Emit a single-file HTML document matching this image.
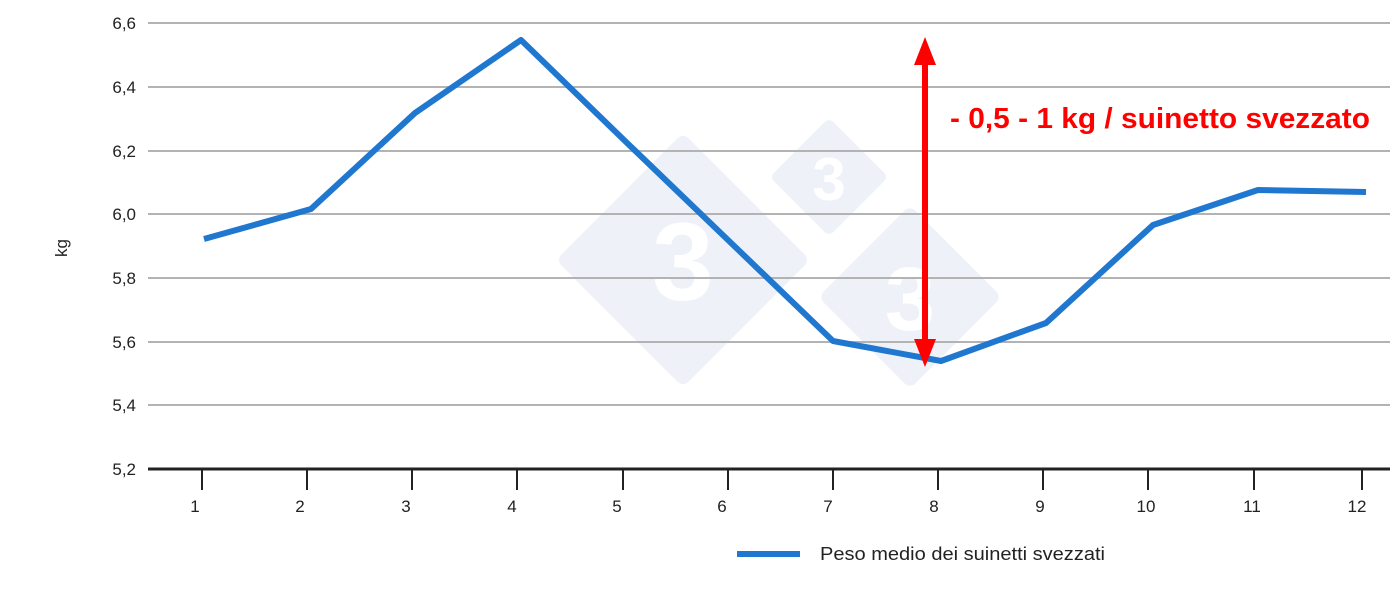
<!DOCTYPE html>
<html><head><meta charset="utf-8"><style>
html,body{margin:0;padding:0;background:#fff;}
svg{display:block;font-family:"Liberation Sans",Arial,sans-serif;}
</style></head><body>
<svg width="1400" height="602" viewBox="0 0 1400 602" xmlns="http://www.w3.org/2000/svg">
<!-- watermark -->
<g fill="#eef2f8">
<rect x="593" y="170" width="180" height="180" rx="8" transform="rotate(45 683 260)"/>
<rect x="787" y="135" width="84" height="84" rx="6" transform="rotate(45 829 177)"/>
<rect x="845" y="232" width="130" height="130" rx="8" transform="rotate(45 910 297)"/>
</g>
<g fill="#fff" font-weight="bold" text-anchor="middle">
<text x="683" y="300" font-size="110">3</text>
<text x="829" y="200" font-size="60">3</text>
<text x="910" y="330" font-size="90">3</text>
</g>
<!-- grid -->
<g stroke="#b3b3b3" stroke-width="2">
<line x1="148" x2="1390" y1="23" y2="23"/>
<line x1="148" x2="1390" y1="87" y2="87"/>
<line x1="148" x2="1390" y1="151" y2="151"/>
<line x1="148" x2="1390" y1="214" y2="214"/>
<line x1="148" x2="1390" y1="278" y2="278"/>
<line x1="148" x2="1390" y1="342" y2="342"/>
<line x1="148" x2="1390" y1="405" y2="405"/>
</g>
<line x1="148" x2="1390" y1="469" y2="469" stroke="#222" stroke-width="3"/>
<g stroke="#222" stroke-width="2">
<line x1="202" x2="202" y1="469" y2="490"/><line x1="307" x2="307" y1="469" y2="490"/>
<line x1="412" x2="412" y1="469" y2="490"/><line x1="517" x2="517" y1="469" y2="490"/>
<line x1="623" x2="623" y1="469" y2="490"/><line x1="728" x2="728" y1="469" y2="490"/>
<line x1="833" x2="833" y1="469" y2="490"/><line x1="938" x2="938" y1="469" y2="490"/>
<line x1="1043" x2="1043" y1="469" y2="490"/><line x1="1148" x2="1148" y1="469" y2="490"/>
<line x1="1254" x2="1254" y1="469" y2="490"/><line x1="1362" x2="1362" y1="469" y2="490"/>
</g>
<g font-size="17" fill="#222" text-anchor="end">
<text x="136" y="29">6,6</text><text x="136" y="93">6,4</text><text x="136" y="157">6,2</text>
<text x="136" y="220">6,0</text><text x="136" y="284">5,8</text><text x="136" y="348">5,6</text>
<text x="136" y="411">5,4</text><text x="136" y="475">5,2</text>
</g>
<g font-size="17" fill="#222" text-anchor="middle">
<text x="195" y="512">1</text><text x="300" y="512">2</text><text x="406" y="512">3</text>
<text x="512" y="512">4</text><text x="617" y="512">5</text><text x="722" y="512">6</text>
<text x="828" y="512">7</text><text x="934" y="512">8</text><text x="1040" y="512">9</text>
<text x="1146" y="512">10</text><text x="1252" y="512">11</text><text x="1357" y="512">12</text>
</g>
<text x="67" y="248" font-size="17" fill="#222" text-anchor="middle" transform="rotate(-90 67 248)">kg</text>
<polyline fill="none" stroke="#1f77d0" stroke-width="6" stroke-linejoin="round" points="204,239 311,209 415,113 521,40 624,140 728,240 833,341 941,361 1046,323 1153,225 1258,190 1366,192"/>
<!-- arrow -->
<line x1="925" x2="925" y1="60" y2="345" stroke="#f00" stroke-width="6"/>
<polygon points="925,37 914,65 936,65" fill="#f00"/>
<polygon points="925,367 914,339 936,339" fill="#f00"/>
<text x="950" y="128" font-size="28.5" font-weight="bold" fill="#f00" textLength="420" lengthAdjust="spacingAndGlyphs">- 0,5 - 1 kg / suinetto svezzato</text>
<line x1="737" x2="800" y1="554" y2="554" stroke="#1f77d0" stroke-width="6"/>
<text x="820" y="560" font-size="18" fill="#222" textLength="285" lengthAdjust="spacingAndGlyphs">Peso medio dei suinetti svezzati</text>
</svg>
</body></html>
